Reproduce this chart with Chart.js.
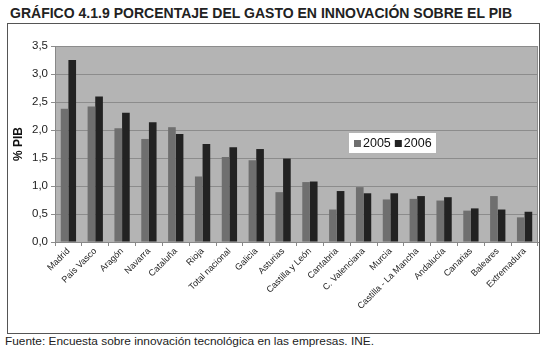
<!DOCTYPE html>
<html>
<head>
<meta charset="utf-8">
<script src="https://cdn.jsdelivr.net/npm/chart.js@4.4.0/dist/chart.umd.min.js"></script>
<style>
  body { margin: 0; background: #fff; font-family: "Liberation Sans", Arial, sans-serif; }
  #title { position: absolute; left: 10px; top: 4px; font-size: 15px; font-weight: bold; color: #222;
           white-space: nowrap; transform-origin: 0 0; }
  #frame { position: absolute; left: 7px; top: 23px; width: 531px; height: 309px; border: 1px solid #555; }
  #footer { position: absolute; left: 5px; top: 335px; font-size: 11.5px; color: #222; white-space: nowrap; transform-origin: 0 0; }
</style>
</head>
<body>
<div id="title">GRÁFICO 4.1.9 PORCENTAJE DEL GASTO EN INNOVACIÓN SOBRE EL PIB</div>
<div id="frame"><canvas id="chart" width="531" height="309"></canvas></div>
<div id="footer">Fuente: Encuesta sobre innovación tecnológica en las empresas. INE.</div>
<script>
// data
const regions = ['Madrid', 'País Vasco', 'Aragón', 'Navarra', 'Cataluña', 'Rioja', 'Total nacional',
  'Galicia', 'Asturias', 'Castilla y León', 'Cantabria', 'C. Valenciana', 'Murcia',
  'Castilla - La Mancha', 'Andalucía', 'Canarias', 'Baleares', 'Extremadura'];
const gasto2005 = [2.38, 2.42, 2.03, 1.84, 2.05, 1.17, 1.52, 1.46, 0.89, 1.07, 0.58, 0.98, 0.76, 0.77, 0.74, 0.56, 0.82, 0.44];
const gasto2006 = [3.25, 2.60, 2.31, 2.14, 1.93, 1.75, 1.69, 1.66, 1.49, 1.08, 0.91, 0.87, 0.87, 0.82, 0.80, 0.60, 0.58, 0.54];
const yTicks = [0, 0.5, 1, 1.5, 2, 2.5, 3, 3.5];

// squeeze a line of text to a given width, like the narrow font of the original
function fitWidth(id, w) {
  const el = document.getElementById(id);
  el.style.transform = 'scaleX(' + (w / el.offsetWidth) + ')';
}
fitWidth('title', 502);
fitWidth('footer', 369);

// grey plot area with a thin border
const plotBackground = {
  id: 'plotBackground',
  beforeDraw(chart) {
    const { ctx, chartArea: a } = chart;
    ctx.save();
    ctx.fillStyle = '#b4b4b4';
    ctx.fillRect(a.left, a.top, a.right - a.left, a.bottom - a.top);
    ctx.strokeStyle = '#8c8c8c';
    ctx.lineWidth = 1;
    ctx.strokeRect(a.left + 0.5, a.top + 0.5, a.right - a.left - 1, a.bottom - a.top);
    ctx.restore();
  }
};

// white legend box inside the plot, as in the original
const boxLegend = {
  id: 'boxLegend',
  afterDraw(chart) {
    const { ctx, chartArea: a } = chart;
    const x = a.left + 294, y = a.top + 87;
    ctx.save();
    ctx.fillStyle = '#fff';
    ctx.fillRect(x, y, 87, 20);
    ctx.font = '12.5px "Liberation Sans", Arial, sans-serif';
    ctx.textBaseline = 'middle';
    let cx = x + 5;
    chart.data.datasets.forEach(ds => {
      ctx.fillStyle = ds.backgroundColor;
      ctx.fillRect(cx, y + 7, 7, 7);
      ctx.fillStyle = '#111';
      ctx.fillText(ds.label, cx + 9, y + 10.5);
      cx += 9 + ctx.measureText(ds.label).width + 4;
    });
    ctx.restore();
  }
};

new Chart(document.getElementById('chart'), {
  type: 'bar',
  data: {
    labels: regions,
    datasets: [
      { label: '2005', data: gasto2005, backgroundColor: '#6f6f6f' },
      { label: '2006', data: gasto2006, backgroundColor: '#222222' }
    ]
  },
  options: {
    responsive: false,
    animation: false,
    layout: { padding: { top: 22, right: 1, left: 3, bottom: 0 } },
    plugins: { legend: { display: false }, tooltip: { enabled: false } },
    datasets: { bar: { categoryPercentage: 0.57, barPercentage: 1.0 } },
    scales: {
      x: {
        grid: { offset: true, drawOnChartArea: false, color: '#888', tickLength: 4 },
        border: { color: '#888' },
        ticks: {
          autoSkip: false, minRotation: 45, maxRotation: 45, color: '#222', padding: 0,
          font: { family: '"Liberation Sans", Arial, sans-serif', size: 9 }
        },
        afterFit(scale) { scale.height = 91; }
      },
      y: {
        min: 0, max: 3.5,
        afterBuildTicks(scale) { scale.ticks = yTicks.map(v => ({ value: v })); },
        grid: { color: '#8c8c8c', tickLength: 4 },
        border: { color: '#888' },
        ticks: {
          color: '#222', padding: 3,
          font: { family: '"Liberation Sans", Arial, sans-serif', size: 11.5 },
          callback: v => v.toFixed(1).replace('.', ',')
        },
        title: {
          display: true, text: '% PIB', color: '#111', padding: 0,
          font: { family: '"Liberation Sans", Arial, sans-serif', size: 12, weight: 'bold' }
        },
        afterFit(scale) { scale.width = 44; }
      }
    }
  },
  plugins: [plotBackground, boxLegend]
});
</script>
</body>
</html>
